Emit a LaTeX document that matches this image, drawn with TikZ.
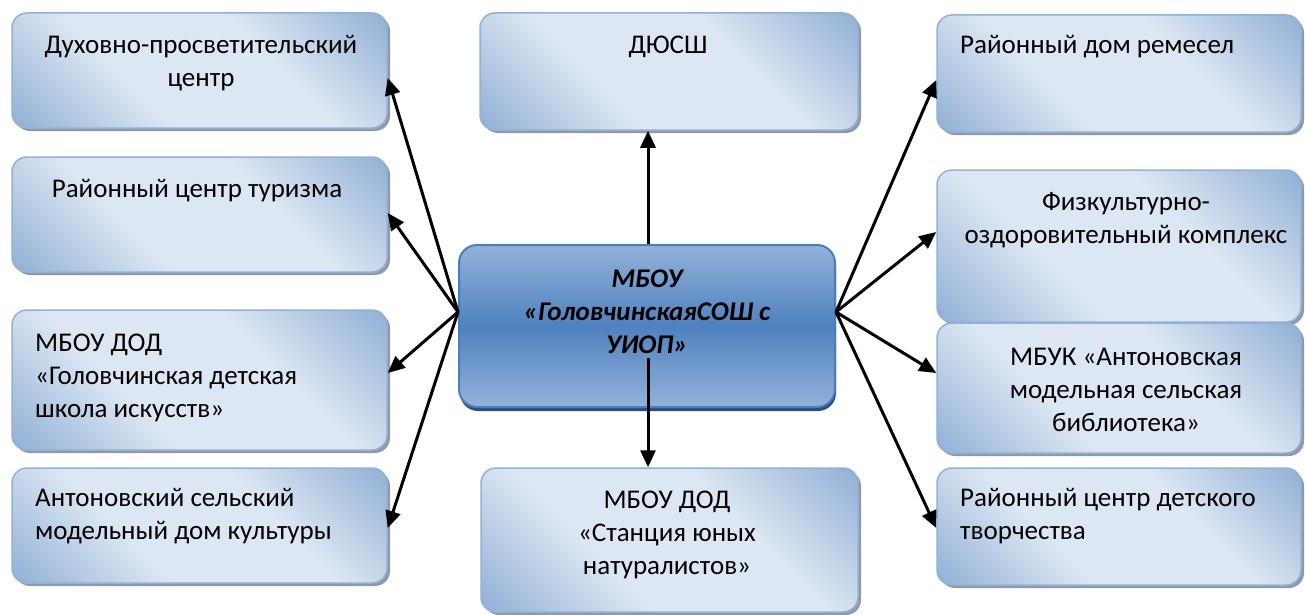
\documentclass[tikz,border=0pt]{standalone}
\usepackage{fontspec}
\setmainfont{Carlito}
\usetikzlibrary{arrows.meta,shadows,calc}
\definecolor{bdark}{HTML}{95B3D7}
\definecolor{blight}{HTML}{DDE7F3}
\definecolor{bborder}{HTML}{93B0D6}
\definecolor{bshadow}{HTML}{8E9AA8}
\definecolor{cmid}{HTML}{4F81BD}
\definecolor{ctop}{HTML}{93B2DA}
\definecolor{cborder}{HTML}{4A7DBB}
\definecolor{cshadow}{HTML}{2A4E7E}
\pgfdeclareverticalshading{boxshade}{100bp}{color(0bp)=(bdark); color(16bp)=(bdark); color(38bp)=(blight); color(62bp)=(blight); color(84bp)=(bdark); color(100bp)=(bdark)}
\tikzset{
  box/.style={rectangle, rounded corners=15pt, draw=bborder, line width=1.5pt,
    shading=boxshade, shading angle=-45, inner sep=0pt,
    drop shadow={fill=bshadow, opacity=1, shadow xshift=3pt, shadow yshift=-3pt}},
  cbox/.style={rectangle, rounded corners=18pt, draw=cborder, line width=2pt,
    top color=ctop, bottom color=ctop, middle color=cmid, inner sep=0pt,
    drop shadow={fill=cshadow, opacity=1, shadow xshift=1pt, shadow yshift=-4pt}},
  txt/.style={font=\fontsize{27}{33}\selectfont, align=center, inner sep=0pt, text=black},
  ltxt/.style={txt, align=left, anchor=west},
  ctxt/.style={txt, font=\fontsize{27}{33}\selectfont\bfseries\itshape},
  arr/.style={-{Triangle[length=17pt,width=15pt]}, line width=3pt, black},
  wide/.style={minimum width=375pt},
  rwide/.style={minimum width=364pt}
}
\begin{document}
\begin{tikzpicture}[x=1pt,y=-1pt]
\useasboundingbox (0,0) rectangle (1305,615);
% left column
\node[box, wide, minimum height=115pt] (L1) at (199.5,70.5) {};
\node[box, wide, minimum height=115pt] (L2) at (199.5,214.5) {};
\node[box, wide, minimum height=140pt] (L3) at (199.5,380) {};
\node[box, wide, minimum height=115pt] (L4) at (199.5,525.5) {};
% middle column
\node[box, minimum width=378pt, minimum height=117pt] (T) at (669,71.5) {};
\node[box, minimum width=377pt, minimum height=144pt] (B) at (669.5,540) {};
\node[cbox, minimum width=376pt, minimum height=162pt] (C) at (647,326) {};
% right column
\node[box, rwide, minimum height=117pt] (R1) at (1119,73.5) {};
\node[box, rwide, minimum height=152pt] (R2) at (1119,246) {};
\node[box, rwide, minimum height=130pt] (R3) at (1119,388) {};
\node[box, rwide, minimum height=117pt] (R4) at (1119,526.5) {};
% texts
\node[txt] (tL1) at (201,63.5) {Духовно-просветительский\\центр};
\node[txt] (tL2) at (197,191) {Районный центр туризма};
\node[ltxt] (tL3) at (35,378) {МБОУ ДОД\\«Головчинская детская\\школа искусств»};
\node[ltxt] (tL4) at (35,516.5) {Антоновский сельский\\модельный дом культуры};
\node[txt] (tT) at (668,47) {ДЮСШ};
\node[ctxt] (tC) at (647,311.5) {МБОУ\\«ГоловчинскаяСОШ с\\УИОП»};
\node[txt] (tB) at (667,535) {МБОУ ДОД\\«Станция юных\\натуралистов»};
\node[ltxt] (tR1) at (960,47) {Районный дом ремесел};
\node[txt] (tR2) at (1126,220.5) {Физкультурно-\\оздоровительный комплекс};
\node[txt] (tR3) at (1126,390) {МБУК «Антоновская\\модельная сельская\\библиотека»};
\node[ltxt] (tR4) at (960,516.5) {Районный центр детского\\творчества};
% connectors
\coordinate (hL) at ([yshift=14pt]C.west);
\coordinate (hR) at ([yshift=14pt]C.east);
\coordinate (up) at ([xshift=1pt]C.north);
\coordinate (dn) at ([xshift=1pt,yshift=-32pt]C.center);
\draw[arr] (hL) -- ([yshift=-7.5pt]L1.east);
\draw[arr] (hL) -- ([yshift=1.5pt]L2.east);
\draw[arr] (hL) -- ([yshift=7pt]L3.east);
\draw[arr] (hL) -- ([yshift=-2.5pt]L4.east);
\draw[arr] (hR) -- ([yshift=-6.5pt]R1.west);
\draw[arr] (hR) -- ([yshift=14pt]R2.west);
\draw[arr] (hR) -- ([yshift=15pt]R3.west);
\draw[arr] (hR) -- ([yshift=-1.5pt]R4.west);
\draw[arr] (up) -- (up |- T.south);
\draw[arr] (dn) -- (dn |- B.north);
\end{tikzpicture}
\end{document}
